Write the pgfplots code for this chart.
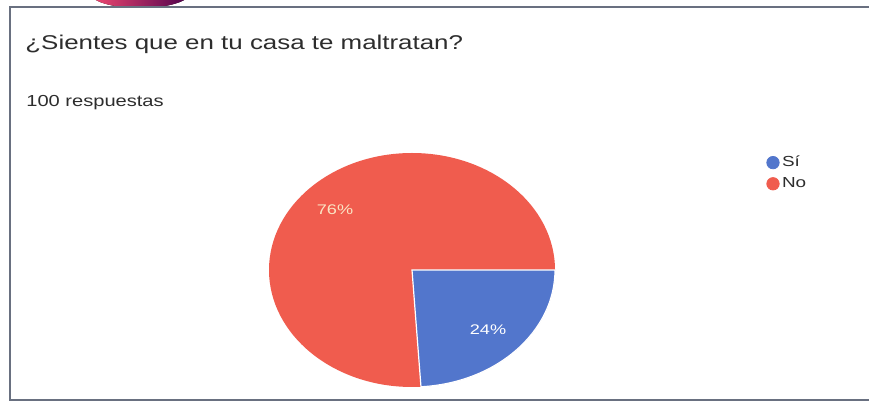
\documentclass[border=0pt]{standalone}
\usepackage{fontspec}
\setmainfont{Liberation Sans}
\usepackage{graphicx}
\usepackage{pgfplots}
\usepackage{pgfplotstable}
\pgfplotsset{compat=1.18}

\definecolor{siblue}{RGB}{82,118,204}
\definecolor{nored}{RGB}{240,92,78}
\definecolor{framegray}{RGB}{105,112,128}
\definecolor{titlegray}{RGB}{45,45,45}
\definecolor{labelcream}{RGB}{250,228,196}

% answers out of 100
\pgfplotstableread{
label value
Si 24
No 76
}\piedata

\begin{document}
\begin{tikzpicture}
\pgfplotstablegetelem{0}{value}\of\piedata
\pgfmathsetmacro\angsi{-3.6*\pgfplotsretval}
\begin{axis}[
hide axis,
scale only axis,
width=434.5bp, height=201.5bp,
xmin=0, xmax=869, ymin=0, ymax=403,
legend style={at={(axis cs:766,250)}, anchor=north west, draw=none, fill=none,
  inner sep=0pt, row sep=1.5bp, font=\fontsize{7.3}{8}\selectfont, text=titlegray,
  nodes={inner sep=1.2bp}},
legend cell align=left,
legend image code/.code={\fill[#1] (3.1bp,0bp) circle[radius=3.1bp];},
]
% scanned decoration peeking over the card
\fill[left color=nored!80!magenta, right color=violet!60!black] (axis cs:140,410) ellipse[x radius=50, y radius=15];
\fill[white] (axis cs:10,3) rectangle (axis cs:880,396);
\draw[framegray, line width=0.8bp] (axis cs:10,3) rectangle (axis cs:880,396);

% pie: "No" as the whole disc, "Si" on top from 3 o'clock clockwise
\fill[nored] (axis cs:412,133) ellipse[x radius=143, y radius=117];
\filldraw[fill=siblue, draw=white, line width=0.6bp] (axis cs:412,133) -- (axis cs:555,133)
  arc[start angle=0, end angle=\angsi, x radius=143, y radius=117] -- cycle;

\node[text=labelcream, font=\fontsize{7}{8}\selectfont] at (axis cs:335,193) {\scalebox{1.3}[1]{76\%}};
\node[text=white, font=\fontsize{7}{8}\selectfont] at (axis cs:488,73) {\scalebox{1.3}[1]{24\%}};

\node[anchor=west, inner sep=0pt, text=titlegray, font=\fontsize{10}{12}\selectfont]
  at (axis cs:25,359) {\scalebox{1.3}[1]{¿Sientes que en tu casa te maltratan?}};
\node[anchor=west, inner sep=0pt, text=titlegray, font=\fontsize{8}{9}\selectfont]
  at (axis cs:26,300) {\scalebox{1.26}[1]{100 respuestas}};

\addlegendimage{siblue}
\addlegendentry{\scalebox{1.3}[1]{Sí}}
\addlegendimage{nored}
\addlegendentry{\scalebox{1.3}[1]{No}}
\end{axis}
\pgfresetboundingbox
\path (current axis.south west) rectangle (current axis.north east);
\end{tikzpicture}
\end{document}
